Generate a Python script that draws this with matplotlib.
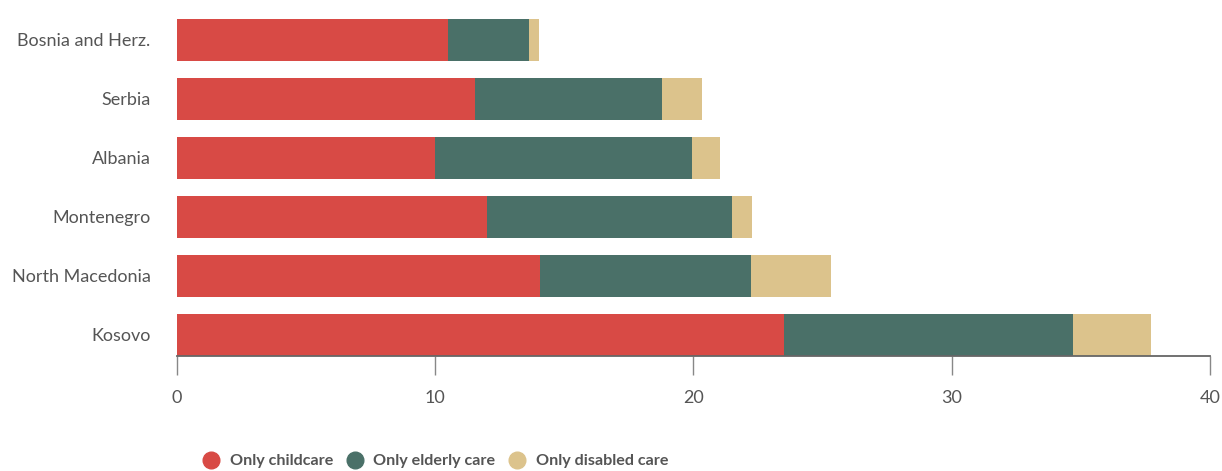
import matplotlib
matplotlib.use("Agg")
import matplotlib.pyplot as plt
import numpy as np

plt.rcParams['font.family'] = ['Lato', 'DejaVu Sans']

### data ######################################################################
countries = ["Kosovo", "North Macedonia", "Montenegro", "Albania", "Serbia",
             "Bosnia and Herz."]
childcare = [23.5, 14.06, 12.0, 9.99, 11.54, 10.49]
elderly = [11.19, 8.17, 9.49, 9.95, 7.24, 3.14]
disabled = [3.02, 3.10, 0.77, 1.08, 1.55, 0.39]

series = ["Only childcare", "Only elderly care", "Only disabled care"]
colors = ["#D84A45", "#4A7068", "#DCC38C"]

### figure ####################################################################
fig = plt.figure(figsize=(12.22, 4.71), dpi=100)
ax = fig.add_axes([0.1448, 0.2452, 0.9902 - 0.1448, 0.9607 - 0.2452])

y = np.arange(len(countries))
h = 0.712
left = np.zeros(len(countries))
for vals, lab, col in zip([childcare, elderly, disabled], series, colors):
    ax.barh(y, vals, height=h, left=left, color=col, label=lab)
    left = left + np.array(vals)

ax.set_xlim(0, 40)
ax.set_ylim(-h / 2, len(countries) - 1 + h / 2)
ax.set_yticks(y)
ax.set_yticklabels(countries, fontsize=13, color="#555555")
ax.set_xticks([0, 10, 20, 30, 40])
ax.tick_params(axis="y", length=0, pad=19)
ax.tick_params(axis="x", length=14, width=1, color="#888888",
               labelsize=13, labelcolor="#555555", pad=11)

for s in ["top", "right", "left"]:
    ax.spines[s].set_visible(False)
ax.spines["bottom"].set_color("#666666")
ax.spines["bottom"].set_linewidth(1.3)

### legend ####################################################################
handles = [plt.Line2D([], [], marker="o", ls="", markersize=12,
                      markerfacecolor=c, markeredgecolor=c) for c in colors]
fig.legend(handles, series, loc="center left",
           bbox_to_anchor=(187 / 1222, 10 / 471), ncol=3, frameon=False,
           handletextpad=0.55, columnspacing=0.75, handlelength=1.2,
           prop={"size": 11.6, "weight": "bold"}, labelcolor="#555555")

fig.savefig("out.png", dpi=100)
